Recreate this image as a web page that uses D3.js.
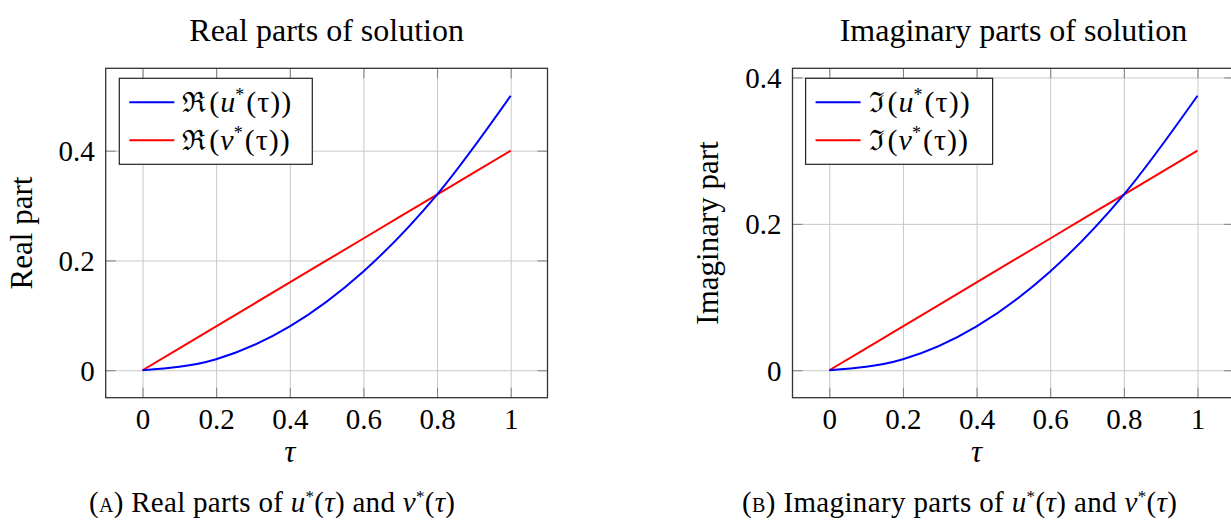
<!DOCTYPE html>
<html>
<head>
<meta charset="utf-8">
<script src="https://cdn.jsdelivr.net/npm/d3@7"></script>
<style>
  body { margin: 0; background: #fff; }
  text { font-family: "Liberation Serif", "DejaVu Serif", serif; fill: #000; }
</style>
</head>
<body>
<div id="chart"></div>
<script>

// data
var tau = [0, 0.2, 0.4, 0.6, 0.8, 1];
var realU = [0, 0.02, 0.08, 0.18, 0.32, 0.5];
var realV = [0, 0.08, 0.16, 0.24, 0.32, 0.4];
var imagU = [0, 0.015, 0.06, 0.135, 0.24, 0.375];
var imagV = [0, 0.06, 0.12, 0.18, 0.24, 0.3];

var xTicks = [0, 0.2, 0.4, 0.6, 0.8, 1];
var realTicks = [0, 0.2, 0.4];
var imagTicks = [0, 0.2, 0.4];

var svgWidth = 1231;
var svgHeight = 527;

var svg = d3.select("#chart")
  .append("svg")
  .attr("width", svgWidth)
  .attr("height", svgHeight)
  .style("display", "block");

svg.append("rect").attr("width", svgWidth).attr("height", svgHeight).attr("fill", "#fff");

var plotW = 441.8;
var plotH = 329.4;
var plotTop = 68.3;

function fmt(d) { return d === 0 ? "0" : d3.format("~g")(d); }

function drawPanel(p) {
  var x = d3.scaleLinear().domain([-0.1, 1.1]).range([0, plotW]);
  var y = d3.scaleLinear().domain(p.yDomain).range([plotH, 0]);

  var g = svg.append("g").attr("transform", `translate(${p.left}, ${plotTop})`);

  // grid
  g.append("g")
    .attr("transform", `translate(0, ${plotH})`)
    .call(d3.axisBottom(x).tickValues(xTicks).tickSize(-plotH).tickFormat(""))
    .call(s => s.select(".domain").remove())
    .call(s => s.selectAll("line").attr("stroke", "#c8c8c8").attr("stroke-width", 1));
  g.append("g")
    .call(d3.axisLeft(y).tickValues(p.yTicks).tickSize(-plotW).tickFormat(""))
    .call(s => s.select(".domain").remove())
    .call(s => s.selectAll("line").attr("stroke", "#c8c8c8").attr("stroke-width", 1));

  // inner tick marks on all four sides
  var tl = 10;
  var tickStyle = s => {
    s.select(".domain").remove();
    s.selectAll("line").attr("stroke", "#808080").attr("stroke-width", 1);
  };
  g.append("g").attr("transform", `translate(0, ${plotH})`)
    .call(d3.axisBottom(x).tickValues(xTicks).tickSize(-tl).tickFormat("")).call(tickStyle);
  g.append("g")
    .call(d3.axisTop(x).tickValues(xTicks).tickSize(-tl).tickFormat("")).call(tickStyle);
  g.append("g")
    .call(d3.axisLeft(y).tickValues(p.yTicks).tickSize(-tl).tickFormat("")).call(tickStyle);
  g.append("g").attr("transform", `translate(${plotW}, 0)`)
    .call(d3.axisRight(y).tickValues(p.yTicks).tickSize(-tl).tickFormat("")).call(tickStyle);

  // tick labels
  g.append("g")
    .attr("transform", `translate(0, ${plotH})`)
    .call(d3.axisBottom(x).tickValues(xTicks).tickSize(0).tickPadding(10).tickFormat(fmt))
    .call(s => s.select(".domain").remove())
    .call(s => s.selectAll("text").attr("font-size", 29).attr("font-family", null).attr("dy", "0.72em"));
  g.append("g")
    .call(d3.axisLeft(y).tickValues(p.yTicks).tickSize(0).tickPadding(11).tickFormat(fmt))
    .call(s => s.select(".domain").remove())
    .call(s => s.selectAll("text").attr("font-size", 29).attr("font-family", null).attr("dy", "0.34em"));

  // frame
  g.append("rect")
    .attr("width", plotW).attr("height", plotH)
    .attr("fill", "none").attr("stroke", "#333").attr("stroke-width", 1.3);

  // lines
  var line = (vals) => d3.line()
    .curve(d3.curveMonotoneX)
    .x((d, i) => x(tau[i]))
    .y(d => y(d))(vals);

  g.append("path").attr("d", line(p.v)).attr("fill", "none")
    .attr("stroke", "#ff0000").attr("stroke-width", 2);
  g.append("path").attr("d", line(p.u)).attr("fill", "none")
    .attr("stroke", "#0000ff").attr("stroke-width", 2);

  // legend
  var lg = g.append("g").attr("transform", `translate(${p.legX}, 10)`);
  lg.append("rect").attr("width", p.legW).attr("height", 86)
    .attr("fill", "#fff").attr("stroke", "#222").attr("stroke-width", 1.2);
  [["u", "#0000ff"], ["v", "#ff0000"]].forEach(function(e, i) {
    var yy = 24 + i * 38;
    lg.append("line").attr("x1", 10).attr("x2", 55).attr("y1", yy).attr("y2", yy)
      .attr("stroke", e[1]).attr("stroke-width", 2);
    var t = lg.append("text").attr("x", 63).attr("y", yy + 10).attr("font-size", 30);
    t.append("tspan").attr("font-family", "DejaVu Serif").attr("font-size", 28).text(p.sym);
    t.append("tspan").attr("dx", 3).text("(");
    t.append("tspan").attr("dx", 1).attr("font-style", "italic").text(e[0]);
    t.append("tspan").attr("font-size", 18).attr("dy", -11).text("*");
    t.append("tspan").attr("dy", 11).attr("dx", 2).text("(");
    t.append("tspan").attr("dx", 1).text("τ");
    t.append("tspan").attr("dx", 1).text(")");
    t.append("tspan").attr("dx", 1).text(")");
  });

  // title
  svg.append("text")
    .attr("x", p.left + plotW / 2).attr("y", 41)
    .attr("text-anchor", "middle").attr("font-size", 32)
    .text(p.title);

  // axis labels
  g.append("text")
    .attr("x", plotW / 2 - 36.8).attr("y", plotH + 64)
    .attr("text-anchor", "middle").attr("font-size", 31).attr("font-style", "italic")
    .text("τ");
  g.append("text")
    .attr("transform", "rotate(-90)")
    .attr("x", -plotH / 2).attr("y", p.yLabelX - p.left)
    .attr("text-anchor", "middle").attr("font-size", 31)
    .text(p.yLabel);

  // caption
  var c = svg.append("text")
    .attr("x", p.capX).attr("y", 512)
    .attr("text-anchor", "middle").attr("font-size", 29)
    .attr("textLength", p.capW).attr("lengthAdjust", "spacing");
  c.append("tspan").text("(");
  c.append("tspan").attr("font-variant", "small-caps").text(p.letter);
  c.append("tspan").text(") " + p.caption + " of ");
  c.append("tspan").attr("font-style", "italic").text("u");
  c.append("tspan").attr("font-size", 17).attr("dy", -10).text("*");
  c.append("tspan").attr("dy", 10).text("(");
  c.append("tspan").attr("font-style", "italic").text("τ");
  c.append("tspan").text(") and ");
  c.append("tspan").attr("font-style", "italic").text("v");
  c.append("tspan").attr("font-size", 17).attr("dy", -10).text("*");
  c.append("tspan").attr("dy", 10).text("(");
  c.append("tspan").attr("font-style", "italic").text("τ");
  c.append("tspan").text(")");
}

drawPanel({
  left: 105.7, yDomain: [-0.05, 0.55], yTicks: realTicks,
  u: realU, v: realV, sym: "ℜ",
  legX: 13.6, legW: 193,
  title: "Real parts of solution", yLabel: "Real part", yLabelX: 31.7,
  letter: "a", caption: "Real parts", capX: 272, capW: 366
});

drawPanel({
  left: 792.5, yDomain: [-0.0375, 0.4125], yTicks: imagTicks,
  u: imagU, v: imagV, sym: "ℑ",
  legX: 13.1, legW: 187,
  title: "Imaginary parts of solution", yLabel: "Imaginary part", yLabelX: 717.6,
  letter: "b", caption: "Imaginary parts", capX: 959.5, capW: 435
});

</script>
</body>
</html>
